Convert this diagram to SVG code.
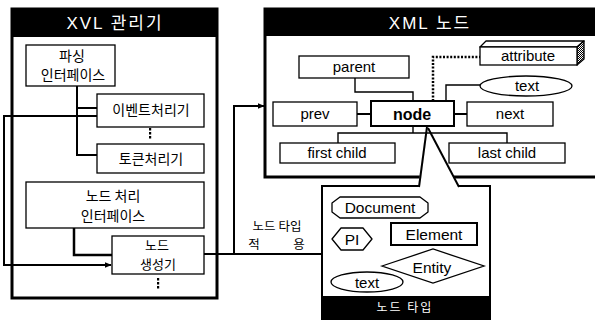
<svg xmlns="http://www.w3.org/2000/svg" width="595" height="320" viewBox="0 0 595 320">
  <defs>
    <style>
      .box { fill: #fff; stroke: #000; stroke-width: 1.3; }
      .frame { fill: #fff; stroke: #000; stroke-width: 3; }
      .bar { fill: #000; }
      .wire { fill: none; stroke: #000; stroke-width: 2; }
      .thin { fill: none; stroke: #000; stroke-width: 1.4; }
      .ko { font-family: "Noto Sans CJK KR", "Noto Sans", sans-serif; font-size: 14px; fill: #000; text-anchor: middle; }
      .en { font-family: "Liberation Sans", Arial, sans-serif; font-size: 15px; fill: #000; text-anchor: middle; }
      .head { font-family: "Liberation Sans", "Noto Sans CJK KR", sans-serif; font-size: 17px; fill: #fff; text-anchor: middle; letter-spacing: 2px; }
    </style>
    <marker id="arrow" viewBox="0 0 10 10" refX="9" refY="5" markerWidth="7" markerHeight="7" markerUnits="userSpaceOnUse" orient="auto">
      <path d="M0,1 L10,5 L0,9 z" fill="#000"/>
    </marker>
    <pattern id="hatch" width="2" height="2" patternUnits="userSpaceOnUse">
      <rect width="2" height="2" fill="#fff"/>
      <rect width="1" height="1" fill="#000"/>
      <rect x="1" y="1" width="1" height="1" fill="#000"/>
    </pattern>
  </defs>

  <!-- XVL manager panel -->
  <g id="xvl-manager">
    <rect class="frame" x="12" y="9" width="205" height="289"/>
    <rect class="bar" x="12" y="9" width="205" height="28"/>
    <text class="head" x="115" y="29">XVL 관리기</text>
  </g>

  <!-- XML node panel -->
  <g id="xml-node-panel">
    <rect class="frame" x="265" y="9" width="340" height="168"/>
    <rect class="bar" x="265" y="9" width="340" height="27"/>
    <text class="head" x="430" y="29">XML 노드</text>
  </g>

  <!-- Node type panel -->
  <g id="node-type-panel">
    <rect x="322" y="186" width="168" height="134" fill="#fff" stroke="#000" stroke-width="2"/>
    <rect class="bar" x="322" y="296" width="168" height="24"/>
    <text class="ko" x="405" y="312" style="fill:#fff;font-size:12px;letter-spacing:2px">노드 타입</text>
  </g>

  <!-- Connectors -->
  <g id="connectors">
    <!-- parsing interface branches -->
    <path class="wire" d="M77,86 V155 H97"/>
    <path class="wire" d="M77,108 H97"/>
    <!-- event handler loop back to node creator -->
    <path class="wire" d="M97,116 H4 V265 H111" marker-end="url(#arrow)"/>
    <!-- node processing interface to node creator -->
    <path class="wire" d="M74,228 V255 H112" style="stroke-width:2.5"/>
    <!-- node creator output -->
    <path class="wire" d="M204,254 H322"/>
    <path class="wire" d="M234,254 V106 H264" marker-end="url(#arrow)"/>

    <!-- node relations -->
    <path class="thin" d="M355,78 V92 H413 V101"/>
    <path class="thin" d="M446,101 V85 H480"/>
    <path d="M433,101 V57 H480" fill="none" stroke="#000" stroke-width="2.5" stroke-dasharray="2 1.6"/>
    <path class="wire" d="M357,114 H371"/>
    <path class="wire" d="M454,114 H467"/>
    <path class="thin" d="M413,126 V133"/>
    <path class="thin" d="M338,143 V133 H507 V143"/>

    <!-- callout from node to node type panel -->
    <polygon points="420.3,170 418.5,190 460,190 451,170" fill="#fff"/>
    <path class="wire" d="M427,127 L419,187"/>
    <path class="wire" d="M428,128 L459,187"/>
  </g>

  <!-- XVL manager contents -->
  <g id="parsing-interface">
    <rect class="box" x="26" y="45" width="89" height="41"/>
    <text class="ko" x="72" y="61">파싱</text>
    <text class="ko" x="73" y="80">인터페이스</text>
  </g>
  <g id="event-handler">
    <rect class="box" x="97" y="94" width="107" height="33"/>
    <text class="ko" x="151" y="115">이벤트처리기</text>
  </g>
  <g id="ellipsis-1">
    <rect x="149" y="128" width="2.2" height="2.5" fill="#000"/>
    <rect x="149" y="132" width="2.2" height="2.5" fill="#000"/>
    <rect x="149" y="136" width="2.2" height="2.5" fill="#000"/>
  </g>
  <g id="token-handler">
    <rect class="box" x="97" y="144" width="107" height="29"/>
    <text class="ko" x="151" y="164">토큰처리기</text>
  </g>
  <g id="node-processing-interface">
    <rect class="box" x="26" y="182" width="178" height="46"/>
    <text class="ko" x="113" y="201">노드 처리</text>
    <text class="ko" x="113" y="221">인터페이스</text>
  </g>
  <g id="node-creator">
    <rect class="box" x="112" y="236" width="92" height="38"/>
    <text class="ko" x="157" y="250" style="font-size:13px">노드</text>
    <text class="ko" x="158" y="269" style="font-size:13px">생성기</text>
  </g>
  <g id="ellipsis-2">
    <rect x="157" y="278" width="2.2" height="2.5" fill="#000"/>
    <rect x="157" y="282" width="2.2" height="2.5" fill="#000"/>
    <rect x="157" y="286" width="2.2" height="2.5" fill="#000"/>
  </g>

  <!-- label on the node-type link -->
  <g id="apply-label">
    <text class="ko" x="277" y="231" style="font-size:12.5px">노드 타입</text>
    <text class="ko" x="254" y="249" style="font-size:12.5px">적</text>
    <text class="ko" x="299" y="249" style="font-size:12.5px">용</text>
  </g>

  <!-- XML node contents -->
  <g id="parent">
    <rect class="box" x="299" y="56" width="110" height="22"/>
    <text class="en" x="354" y="72">parent</text>
  </g>
  <g id="attribute">
    <polygon points="480,47 486,41 584,41 577,47" fill="#fff" stroke="#000" stroke-width="1.3" stroke-linejoin="round"/>
    <polygon points="577,47 584,41 584,59 577,65" fill="url(#hatch)" stroke="#000" stroke-width="1.3" stroke-linejoin="round"/>
    <rect class="box" x="480" y="47" width="97" height="18"/>
    <text class="en" x="528" y="61">attribute</text>
  </g>
  <g id="text-node">
    <ellipse class="box" cx="526" cy="86" rx="46" ry="10"/>
    <text class="en" x="527" y="91">text</text>
  </g>
  <g id="prev">
    <rect class="box" x="273" y="102" width="84" height="24"/>
    <text class="en" x="315" y="119">prev</text>
  </g>
  <g id="node">
    <rect x="371" y="101" width="83" height="25" fill="#fff" stroke="#000" stroke-width="2"/>
    <text class="en" x="412" y="120" style="font-weight:bold;font-size:16px">node</text>
  </g>
  <g id="next">
    <rect class="box" x="467" y="102" width="86" height="24"/>
    <text class="en" x="510" y="119">next</text>
  </g>
  <g id="first-child">
    <rect class="box" x="280" y="143" width="115" height="20"/>
    <text class="en" x="337" y="158">first child</text>
  </g>
  <g id="last-child">
    <rect class="box" x="449" y="143" width="116" height="20"/>
    <text class="en" x="507" y="158">last child</text>
  </g>

  <!-- Node type contents -->
  <g id="document">
    <polygon class="box" points="340,197 420,197 428,203 428,212 420,218 340,218 332,212 332,203" stroke-linejoin="round"/>
    <text class="en" x="380" y="213" style="font-size:15.5px">Document</text>
  </g>
  <g id="pi">
    <polygon class="box" points="341,228 363,228 372,239 363,250 341,250 332,239" stroke-linejoin="round"/>
    <text class="en" x="352" y="245" style="font-size:15.5px">PI</text>
  </g>
  <g id="element">
    <rect x="391" y="223" width="86" height="22" fill="#fff" stroke="#000" stroke-width="2"/>
    <text class="en" x="434" y="240" style="font-size:15.5px">Element</text>
  </g>
  <g id="entity">
    <polygon class="box" points="382,266 433,249 484,266 433,283"/>
    <text class="en" x="432" y="273" style="font-size:15.5px">Entity</text>
  </g>
  <g id="text-type">
    <ellipse class="box" cx="367" cy="282" rx="36" ry="10"/>
    <text class="en" x="367" y="288">text</text>
  </g>
</svg>
